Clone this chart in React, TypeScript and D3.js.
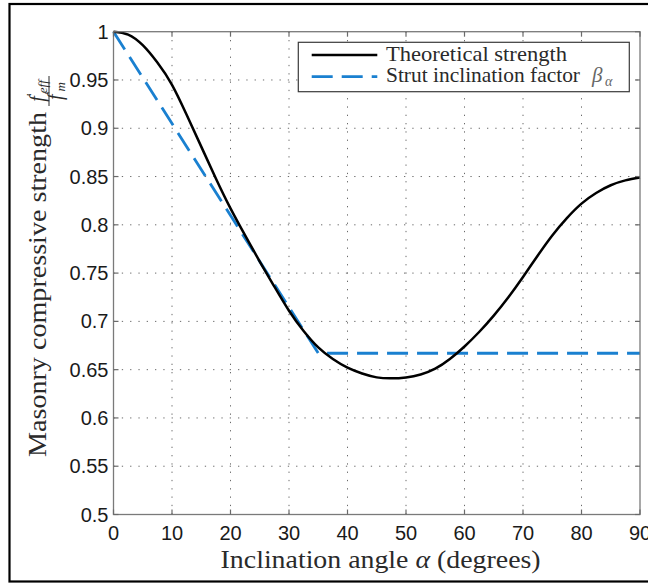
import React, { useEffect, useRef } from 'react'
import * as d3 from 'd3'

// inclination angle (degrees) and theoretical strength
const angles = [
	0, 2.5, 5, 7.5, 10, 12.5, 15, 17.5, 20, 22.5, 25, 27.5, 30, 32.5, 35, 37.5, 40, 42.5, 45, 47.5,
	50, 52.5, 55, 57.5, 60, 62.5, 65, 67.5, 70, 72.5, 75, 77.5, 80, 82.5, 85, 87.5, 90,
]
const theoretical = [
	1.0, 0.997, 0.986, 0.968, 0.945, 0.914, 0.881, 0.848, 0.817, 0.789, 0.762, 0.736, 0.711, 0.69,
	0.673, 0.661, 0.652, 0.646, 0.642, 0.641, 0.642, 0.645, 0.651, 0.661, 0.674, 0.689, 0.706,
	0.725, 0.746, 0.768, 0.789, 0.807, 0.822, 0.833, 0.841, 0.846, 0.849,
]
// strut inclination factor beta_alpha
const strutAngles = [0, 35, 90]
const strutFactor = [1, 0.667, 0.667]

const xTicks = [0, 10, 20, 30, 40, 50, 60, 70, 80, 90]
const yTicks = [0.5, 0.55, 0.6, 0.65, 0.7, 0.75, 0.8, 0.85, 0.9, 0.95, 1]
const yTickLabels = ['0.5', '0.55', '0.6', '0.65', '0.7', '0.75', '0.8', '0.85', '0.9', '0.95', '1']
const legendLabels = ['Theoretical strength', 'Strut inclination factor']

const W = 648
const H = 583
const plot = { left: 113.5, right: 640, top: 31.7, bottom: 514.5 }
const BLUE = '#1a80d0'
const INK = '#2a2a2a'
const SERIF = '"Liberation Serif", "Times New Roman", serif'
const SANS = '"Liberation Sans", Arial, sans-serif'

function App() {
	const ref = useRef<SVGSVGElement>(null)

	useEffect(() => {
		const svg = d3.select(ref.current)
		svg.selectAll('*').remove()

		const x = d3.scaleLinear().domain([0, 90]).range([plot.left, plot.right])
		const y = d3.scaleLinear().domain([0.5, 1]).range([plot.bottom, plot.top])

		svg.append('rect').attr('width', W).attr('height', H).attr('fill', '#fff')
		// zwarte rand om de hele figuur
		svg.append('rect')
			.attr('x', 9.5).attr('y', 4).attr('width', 680).attr('height', 577.5)
			.attr('fill', 'none').attr('stroke', '#000').attr('stroke-width', 2.2)

		// stippel grid
		const grid = svg.append('g').attr('stroke', '#6a6a6a').attr('stroke-width', 1).attr('stroke-dasharray', '1.3,7')
		grid.selectAll('line.gx').data(xTicks.slice(1, -1)).join('line').attr('class', 'gx')
			.attr('x1', d => x(d)).attr('x2', d => x(d)).attr('y1', plot.top).attr('y2', plot.bottom)
		grid.selectAll('line.gy').data(yTicks.slice(1, -1)).join('line').attr('class', 'gy')
			.attr('y1', d => y(d)).attr('y2', d => y(d)).attr('x1', plot.left).attr('x2', plot.right)

		// lijnen
		const theo = angles.map((a, i) => [a, theoretical[i]] as [number, number])
		const strut = strutAngles.map((a, i) => [a, strutFactor[i]] as [number, number])
		const line = d3.line<[number, number]>().x(d => x(d[0])).y(d => y(d[1]))

		svg.append('path').datum(strut)
			.attr('d', line.curve(d3.curveLinear))
			.attr('fill', 'none').attr('stroke', BLUE).attr('stroke-width', 2.8)
			.attr('stroke-dasharray', '21,9')
		svg.append('path').datum(theo)
			.attr('d', line.curve(d3.curveNatural))
			.attr('fill', 'none').attr('stroke', '#000').attr('stroke-width', 2.5)
			.attr('stroke-linejoin', 'round')

		// assen kader + ticks aan alle kanten
		svg.append('rect')
			.attr('x', plot.left).attr('y', plot.top)
			.attr('width', plot.right - plot.left).attr('height', plot.bottom - plot.top)
			.attr('fill', 'none').attr('stroke', '#7a7a7a').attr('stroke-width', 1.3)
		const ticks = svg.append('g').attr('stroke', '#6a6a6a').attr('stroke-width', 1.2)
		const tl = 5
		xTicks.forEach(t => {
			ticks.append('line').attr('x1', x(t)).attr('x2', x(t)).attr('y1', plot.bottom).attr('y2', plot.bottom - tl)
			ticks.append('line').attr('x1', x(t)).attr('x2', x(t)).attr('y1', plot.top).attr('y2', plot.top + tl)
		})
		yTicks.forEach(t => {
			ticks.append('line').attr('y1', y(t)).attr('y2', y(t)).attr('x1', plot.left).attr('x2', plot.left + tl)
			ticks.append('line').attr('y1', y(t)).attr('y2', y(t)).attr('x1', plot.right).attr('x2', plot.right - tl)
		})

		// tick labels
		svg.append('g').selectAll('text').data(xTicks).join('text')
			.attr('x', d => x(d)).attr('y', 540)
			.attr('text-anchor', 'middle').attr('font-family', SANS).attr('font-size', 20).attr('fill', '#1a1a1a')
			.text(d => String(d))
		svg.append('g').selectAll('text').data(yTicks).join('text')
			.attr('x', 108.5).attr('y', d => y(d) + 7)
			.attr('text-anchor', 'end').attr('font-family', SANS).attr('font-size', 20).attr('fill', '#1a1a1a')
			.text((d, i) => yTickLabels[i])

		// x as titel
		const xl = svg.append('text')
			.attr('x', 220.6).attr('y', 568).attr('font-family', SERIF).attr('font-size', 25)
			.attr('fill', INK).attr('textLength', 320).attr('lengthAdjust', 'spacingAndGlyphs')
		xl.append('tspan').text('Inclination angle ')
		xl.append('tspan').attr('font-style', 'italic').text('α')
		xl.append('tspan').text(' (degrees)')

		// y as titel met breuk
		const yg = svg.append('g').attr('transform', 'translate(45,0) rotate(-90)')
		yg.append('text')
			.attr('x', -457).attr('y', 1).attr('font-family', SERIF).attr('font-size', 25)
			.attr('fill', INK).attr('textLength', 345).attr('lengthAdjust', 'spacingAndGlyphs')
			.text('Masonry compressive strength')
		const fx = -91
		const num = yg.append('text').attr('x', fx).attr('y', -1).attr('text-anchor', 'middle')
			.attr('font-family', SERIF).attr('fill', INK)
		num.append('tspan').attr('font-style', 'italic').attr('font-size', 20).text('f')
		num.append('tspan').attr('font-size', 14).attr('dy', -7).text('′')
		num.append('tspan').attr('font-style', 'italic').attr('font-size', 13).attr('dy', 10).text('eff')
		yg.append('line').attr('x1', fx - 15).attr('x2', fx + 15).attr('y1', 4).attr('y2', 4)
			.attr('stroke', INK).attr('stroke-width', 1)
		const den = yg.append('text').attr('x', fx).attr('y', 17).attr('text-anchor', 'middle')
			.attr('font-family', SERIF).attr('fill', INK)
		den.append('tspan').attr('font-style', 'italic').attr('font-size', 20).text('f')
		den.append('tspan').attr('font-size', 14).attr('dy', -7).text('′')
		den.append('tspan').attr('font-style', 'italic').attr('font-size', 13).attr('dy', 10).text('m')

		// legenda
		const lg = svg.append('g')
		lg.append('rect').attr('x', 298.3).attr('y', 42.3).attr('width', 331).attr('height', 49.4)
			.attr('fill', '#fff').attr('stroke', '#3a3a3a').attr('stroke-width', 1.2)
		lg.append('line').attr('x1', 311.7).attr('x2', 377.3).attr('y1', 55).attr('y2', 55)
			.attr('stroke', '#000').attr('stroke-width', 2.5)
		lg.append('line').attr('x1', 311.7).attr('x2', 377.3).attr('y1', 76.7).attr('y2', 76.7)
			.attr('stroke', BLUE).attr('stroke-width', 2.8).attr('stroke-dasharray', '21,9')
		lg.append('text').attr('x', 386).attr('y', 61).attr('font-family', SERIF).attr('font-size', 21)
			.attr('fill', INK).attr('textLength', 181).attr('lengthAdjust', 'spacingAndGlyphs')
			.text(legendLabels[0])
		lg.append('text').attr('x', 386).attr('y', 82).attr('font-family', SERIF).attr('font-size', 21)
			.attr('fill', INK).attr('textLength', 194).attr('lengthAdjust', 'spacingAndGlyphs')
			.text(legendLabels[1])
		lg.append('text').attr('x', 592).attr('y', 82).attr('font-family', SERIF).attr('font-size', 21)
			.attr('font-style', 'italic').attr('fill', '#666').text('β')
		lg.append('text').attr('x', 605).attr('y', 86).attr('font-family', SERIF).attr('font-size', 14)
			.attr('font-style', 'italic').attr('fill', '#666').text('α')
	}, [])

	return (
		<svg
			ref={ref}
			width={W}
			height={H}
			style={{ position: 'absolute', left: 0, top: 0, display: 'block' }}
		/>
	)
}

export default App
